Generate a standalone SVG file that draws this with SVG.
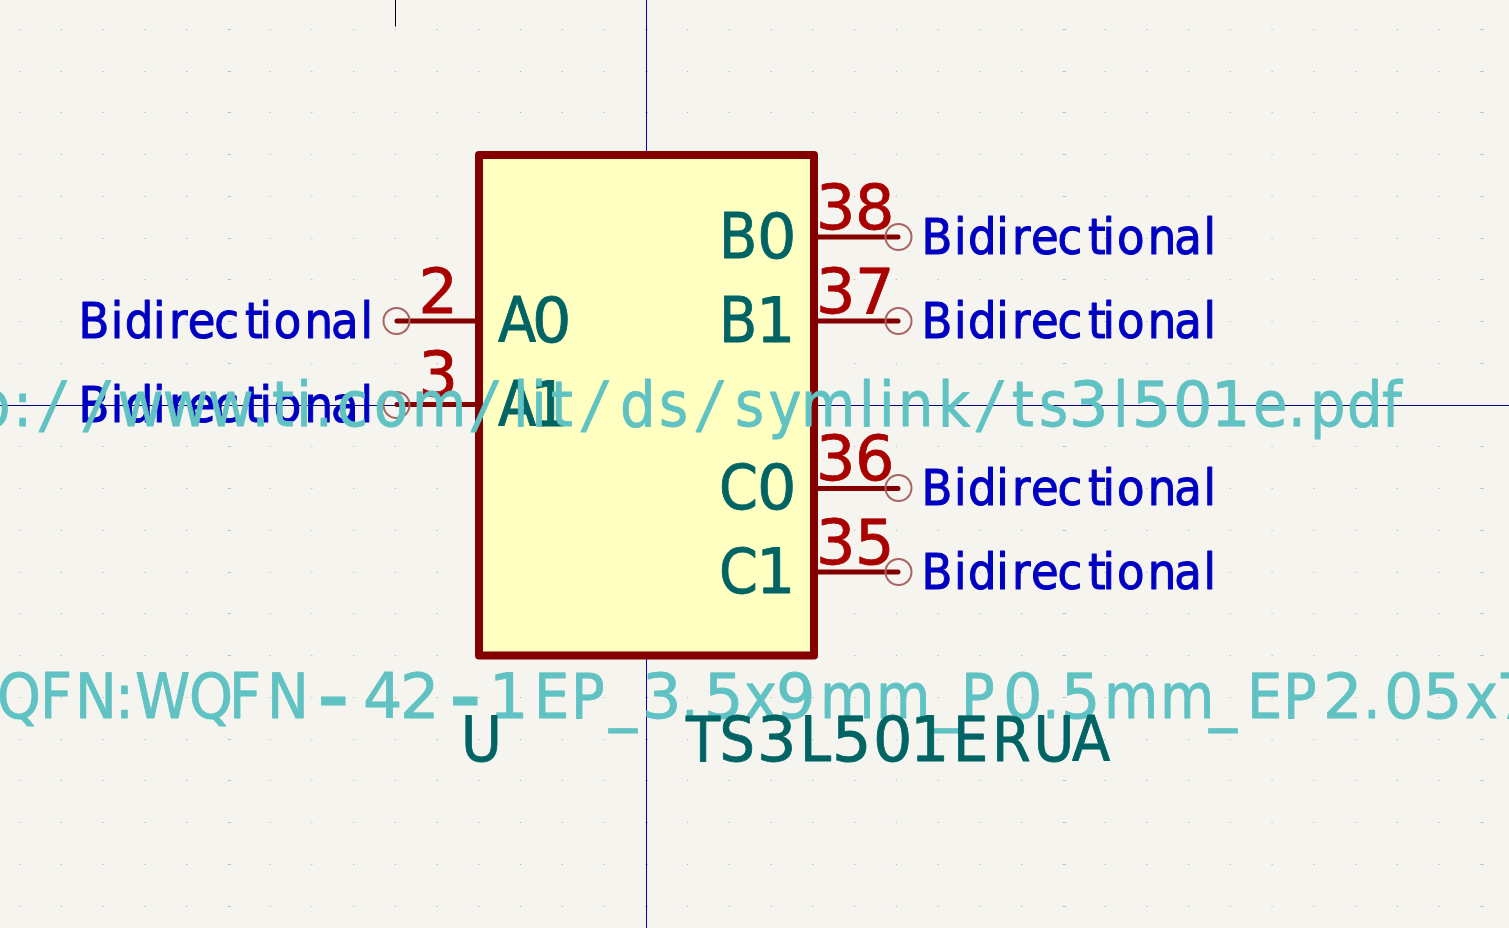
<svg xmlns="http://www.w3.org/2000/svg" width="1509" height="928" viewBox="0 0 1509 928">
<style>
text{font-family:"DejaVu Sans","Liberation Sans",sans-serif;font-stretch:condensed;stroke-linejoin:round}
.d{font-stretch:normal}
.s{font-style:oblique}
.h{font-size:100px}
.pin{stroke:#840000;stroke-width:5;stroke-linecap:round;fill:none}
.end{fill:none;stroke:#a96464;stroke-width:2}
.num{font-size:62px;fill:#a90000;stroke:#a90000;stroke-width:.8;font-stretch:normal}
.name{font-size:62px;fill:#006464;stroke:#006464;stroke-width:.8}
.net{font-size:50px;fill:#0000c2;stroke:#0000c2;stroke-width:1}
.hid{font-size:62px;fill:#60c2c2;stroke:#60c2c2;stroke-width:.8}
.g1{stroke:#b8b8b4;stroke-width:1;fill:none;stroke-dasharray:1.2 40.55}
.g2{stroke:#b8b8b4;stroke-width:1;fill:none;stroke-dasharray:2.2 415.3}
</style>
<defs>
<path id="rows" d="M0 29.500H1509M0 71.500H1509M0 112.500H1509M0 154.500H1509M0 196.500H1509M0 238.500H1509M0 279.500H1509M0 321.500H1509M0 363.500H1509M0 405.500H1509M0 446.500H1509M0 488.500H1509M0 530.500H1509M0 572.500H1509M0 613.500H1509M0 655.500H1509M0 697.500H1509M0 739.500H1509M0 780.500H1509M0 822.500H1509M0 864.500H1509M0 906.500H1509"/>
</defs>
<rect width="1509" height="928" fill="#f5f4ef"/>
<use href="#rows" class="g1" x="19"/>
<use href="#rows" class="g2" x="228.600"/>
<g id="axes" fill="none" stroke-width="1">
<path d="M395.500 0V26.500" stroke="#000"/>
<path d="M646.500 0V928" stroke="#0000c2"/>
<path d="M0 405.500H1509" stroke="#000080"/>
</g>
<g id="body"><rect x="479" y="155" width="335" height="500.500" fill="#ffffc2" stroke="#840000" stroke-width="8" stroke-linejoin="round"/></g>
<g id="connectors">
<path class="pin" d="M397 321H477M397 404.500H477M816 237H898M816 321H898M816 488.500H898M816 572H898"/>
</g>
<g id="pin-A0"><circle class="end" cx="396.500" cy="321" r="13"/><text class="num" x="418.500" y="313">2</text><text class="name" x="498 532" y="342">A<tspan class="d">0</tspan></text><text class="net" x="78.400 110.700 124.700 153 168.900 187.700 214.300 244.900 259.400 273.800 304.600 331.100 360.400" y="338">Bidirectional</text></g>
<g id="pin-A1"><circle class="end" cx="396.500" cy="405" r="13"/><text class="num" x="418.500" y="396">3</text><text class="name" x="498 530" y="426">A<tspan class="d">1</tspan></text><text class="net" x="78.400 110.700 124.700 153 168.900 187.700 214.300 244.900 259.400 273.800 304.600 331.100 360.400" y="422">Bidirectional</text></g>
<g id="pin-B0"><circle class="end" cx="898.500" cy="237" r="13"/><text class="num" x="816 855" y="229">38</text><text class="name" x="719 757" y="258">B<tspan class="d">0</tspan></text><text class="net" x="921.600 953.900 967.900 996.200 1012.100 1030.900 1057.500 1088.100 1102.600 1117 1147.800 1174.300 1203.600" y="254">Bidirectional</text></g>
<g id="pin-B1"><circle class="end" cx="898.500" cy="321" r="13"/><text class="num" x="816 855" y="313">37</text><text class="name" x="719 756" y="342">B<tspan class="d">1</tspan></text><text class="net" x="921.600 953.900 967.900 996.200 1012.100 1030.900 1057.500 1088.100 1102.600 1117 1147.800 1174.300 1203.600" y="338">Bidirectional</text></g>
<g id="pin-C0"><circle class="end" cx="898.500" cy="488" r="13"/><text class="num" x="816 855" y="480">36</text><text class="name" x="719 757" y="509">C<tspan class="d">0</tspan></text><text class="net" x="921.600 953.900 967.900 996.200 1012.100 1030.900 1057.500 1088.100 1102.600 1117 1147.800 1174.300 1203.600" y="505">Bidirectional</text></g>
<g id="pin-C1"><circle class="end" cx="898.500" cy="572" r="13"/><text class="num" x="816 855" y="564">35</text><text class="name" x="719 756" y="593">C<tspan class="d">1</tspan></text><text class="net" x="921.600 953.900 967.900 996.200 1012.100 1030.900 1057.500 1088.100 1102.600 1117 1147.800 1174.300 1203.600" y="589">Bidirectional</text></g>
<g id="datasheet"><text class="hid" x="-25 13.300 43 87 117.700 162.700 208 251.800 272 296.200 315 337 374 412 475 513 531.200 551 585 620 659 700 735 768.500 801 859 879 898 938 980 1012 1039 1069 1113 1132 1173 1211 1253 1288 1310 1347 1382" y="425.500">p:<tspan class="s">//</tspan>www.ti.com<tspan class="s">/</tspan>lit<tspan class="s">/</tspan>ds<tspan class="s">/</tspan>symlink<tspan class="s">/</tspan>ts<tspan class="d">3</tspan>l<tspan class="d">501</tspan>e.pdf</text></g>
<g id="footprint"><text class="hid" x="-3 40 75 115 135 189 229 267 317 363 400 449 489 534 571 609 642 681 704 744 776 820 876 932 961 1003 1042 1061 1104 1160 1209 1247 1283 1323 1363 1384 1423 1465 1496" y="718">QFN:WQFN<tspan class="h" dy="9.500">-</tspan><tspan class="d" dy="-9.500">42</tspan><tspan class="h" dy="9.500">-</tspan><tspan class="d" dy="-9.500">1</tspan>EP_<tspan class="d">3</tspan>.<tspan class="d">5</tspan>x<tspan class="d">9</tspan>mm_P<tspan class="d">0</tspan>.<tspan class="d">5</tspan>mm_EP<tspan class="d">2</tspan>.<tspan class="d">05</tspan>x<tspan class="d">7</tspan></text></g>
<g id="ref"><text class="name" x="461" y="760.500">U</text></g>
<g id="value"><text class="name" x="686 719.500 757 800 832 873 910 953 992 1033.500 1072" y="760.500">TS<tspan class="d">3</tspan>L<tspan class="d">501</tspan>ERUA</text></g>
</svg>
